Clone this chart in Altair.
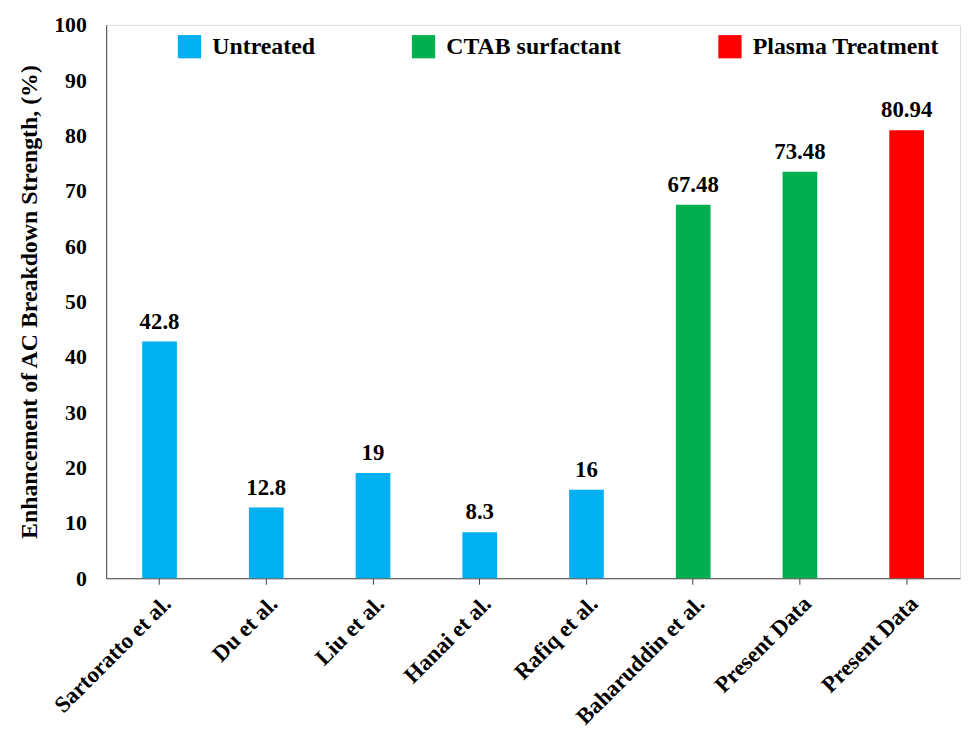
import altair as alt
import pandas as pd

studies = ["Sartoratto et al.", "Du et al.", "Liu et al.", "Hanai et al.", "Rafiq et al.",
           "Baharuddin et al.", "Present Data", "Present Data"]
values = [42.8, 12.8, 19, 8.3, 16, 67.48, 73.48, 80.94]
value_labels = ["42.8", "12.8", "19", "8.3", "16", "67.48", "73.48", "80.94"]
treatments = ["Untreated", "Untreated", "Untreated", "Untreated", "Untreated",
              "CTAB surfactant", "CTAB surfactant", "Plasma Treatment"]
treatment_order = ["Untreated", "CTAB surfactant", "Plasma Treatment"]
treatment_colors = ["#00B0F0", "#00B050", "#FF0000"]

df = pd.DataFrame({
    "key": [f"{s}|{i}" for i, s in enumerate(studies)],
    "value": values,
    "vlabel": value_labels,
    "treatment": treatments,
})

FONT = "Liberation Serif"

x_enc = alt.X("key:N", sort=None,
              scale=alt.Scale(paddingInner=0.675, paddingOuter=0.3375),
              axis=alt.Axis(title=None, labelAngle=-45, labelAlign="right", labelBaseline="top",
                            labelExpr="split(datum.label, '|')[0]",
                            labelFont=FONT, labelFontWeight="bold", labelFontSize=23,
                            labelColor="black", labelPadding=8,
                            tickColor="#404040", tickSize=6, domainColor="#404040",
                            labelLimit=300))
y_enc = alt.Y("value:Q", scale=alt.Scale(domain=[0, 100], nice=False),
              axis=alt.Axis(title="Enhancement of AC Breakdown Strength, (%)",
                            values=list(range(0, 101, 10)), grid=False, ticks=False,
                            labelFont=FONT, labelFontWeight="bold", labelFontSize=22,
                            labelColor="black", labelPadding=20,
                            titleFont=FONT, titleFontWeight="bold", titleFontSize=24,
                            titleColor="black", titlePadding=12, domainColor="#404040"))

bars = alt.Chart(df).mark_bar().encode(
    x=x_enc, y=y_enc,
    color=alt.Color("treatment:N",
                    scale=alt.Scale(domain=treatment_order, range=treatment_colors),
                    legend=alt.Legend(title=None, orient="none", legendX=72, legendY=10,
                                      direction="horizontal", symbolType="square",
                                      symbolSize=550, symbolStrokeWidth=0, symbolOpacity=1,
                                      labelFont=FONT, labelFontWeight="bold", labelFontSize=24,
                                      labelColor="black", labelOffset=11, columnPadding=97,
                                      labelLimit=300)),
)

labels = alt.Chart(df).mark_text(baseline="bottom", dy=-8, font=FONT, fontWeight="bold",
                                 fontSize=23, color="black").encode(
    x=alt.X("key:N", sort=None), y="value:Q", text="vlabel:N")

chart = (bars + labels).properties(
    width=861, height=558,
    autosize=alt.AutoSizeParams(type="none"),
    padding={"left": 99, "top": 14, "right": 2, "bottom": 150},
).configure_view(stroke="#404040", strokeWidth=1).configure(background="white")

chart.save("out.html", embed_options={"renderer": "svg", "actions": False})
